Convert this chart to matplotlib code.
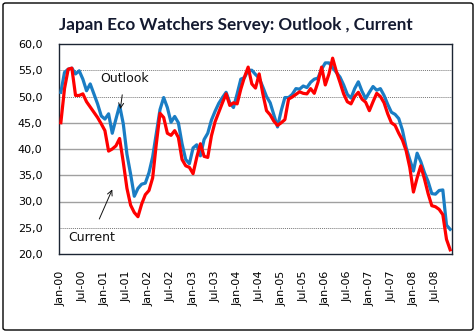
import matplotlib
matplotlib.use("Agg")
import matplotlib.pyplot as plt
from matplotlib.patches import FancyBboxPatch

# monthly survey readings, Jan-2000 .. Nov-2008
outlook = [50.8, 54.6, 55.2, 55.4, 54.3, 54.9, 53.3, 51.1, 52.4, 50.5,
           48.6, 46.3, 45.7, 46.7, 43.0, 45.7, 48.3, 44.8, 39.0, 35.2,
           31.0, 32.5, 33.3, 33.5, 35.5, 38.5, 43.0, 47.5, 49.8, 47.9,
           45.1, 46.2, 45.0, 41.0, 38.0, 37.2, 40.2, 40.8, 38.7, 41.8,
           43.0, 45.5, 47.2, 48.7, 49.8, 50.8, 48.8, 47.9, 50.5, 53.3,
           53.6, 55.0, 55.0, 54.2, 53.5, 51.8, 50.0, 48.8, 46.5, 44.2,
           47.3, 49.8, 49.8, 50.4, 51.5, 51.4, 52.0, 51.7, 52.7, 53.3,
           53.5, 55.2, 56.4, 56.4, 55.5, 54.6, 53.7, 52.2, 50.4, 49.7,
           51.5, 52.8, 51.0, 49.6, 50.8, 51.9, 51.2, 51.5, 50.2, 48.5,
           47.0, 46.6, 45.8, 43.6, 40.3, 38.0, 35.8, 39.2, 37.6, 35.5,
           33.8, 31.5, 31.4, 32.1, 32.2, 25.5, 24.7]
current = [45.0, 51.5, 55.2, 55.4, 50.2, 50.2, 50.5, 49.0, 48.0, 47.0,
           46.0, 44.8, 43.5, 39.6, 40.0, 40.6, 42.0, 37.5, 32.5, 29.3,
           27.9, 27.1, 29.5, 31.3, 32.1, 34.5, 41.0, 46.8, 46.0, 43.0,
           42.6, 43.5, 42.2, 38.0, 36.8, 36.5, 35.3, 38.4, 41.0, 38.6,
           38.4, 42.5, 45.2, 47.0, 48.8, 50.5, 48.3, 48.8, 48.6, 51.4,
           53.7, 55.6, 52.4, 51.6, 54.3, 50.5, 47.3, 46.5, 45.3, 44.5,
           45.0, 45.6, 49.5, 49.9, 50.4, 50.9, 50.6, 50.5, 51.5, 50.6,
           52.7, 55.6, 52.2, 54.3, 57.3, 54.8, 52.7, 50.5, 49.0, 48.6,
           50.0, 50.8, 49.5, 48.9, 47.3, 49.0, 50.6, 50.0, 48.8, 46.7,
           45.0, 44.5, 43.0, 41.7, 39.7, 36.5, 31.8, 34.5, 36.8, 34.3,
           31.5, 29.2, 29.0, 28.5, 27.5, 22.8, 20.8]

tick_labels = ["Jan-00", "Jul-00", "Jan-01", "Jul-01", "Jan-02", "Jul-02",
               "Jan-03", "Jul-03", "Jan-04", "Jul-04", "Jan-05", "Jul-05",
               "Jan-06", "Jul-06", "Jan-07", "Jul-07", "Jan-08", "Jul-08"]
y_ticks = [20, 25, 30, 35, 40, 45, 50, 55, 60]

fig = plt.figure(figsize=(4.74, 3.32), dpi=100)
ax = fig.add_axes([59 / 474, 1 - 254 / 332, 393 / 474, 210 / 332])

# gridlines: some dotted, some solid, as in the original
for v in y_ticks[1:-1]:
    if v in (25, 50, 55):
        ax.axhline(v, color="#777777", lw=0.7, ls=(0, (1, 1)), zorder=1)
    else:
        ax.axhline(v, color="#a0a0a0", lw=1.0, zorder=1)

x = list(range(len(outlook)))
ax.plot(x, outlook, color="#1a7dc4", lw=2.3, zorder=3)
ax.plot(x, current, color="#ff0000", lw=2.3, zorder=4)

ax.set_xlim(-0.5, len(outlook) - 0.5)
ax.set_ylim(20, 60)
ax.set_yticks(y_ticks)
ax.set_yticklabels([f"{v:.1f}".replace(".", ",") for v in y_ticks], fontsize=8)
ax.set_xticks(list(range(0, 6 * len(tick_labels), 6)))
ax.set_xticklabels(tick_labels, rotation=90, fontsize=8)
ax.tick_params(axis="both", length=0)
ax.tick_params(axis="y", pad=12)
ax.tick_params(axis="x", pad=12)
for s in ax.spines.values():
    s.set_color("#1c2533")
    s.set_linewidth(1.0)

ax.annotate("Outlook", xy=(16.2, 47.6), xytext=(17.3, 53.4),
            fontsize=9, ha="center", va="center", color="#111111",
            arrowprops=dict(arrowstyle="->", color="#111111", lw=0.7,
                            shrinkA=5, shrinkB=0))
ax.annotate("Current", xy=(14.0, 32.3), xytext=(8.3, 23.2),
            fontsize=9, ha="center", va="center", color="#111111",
            arrowprops=dict(arrowstyle="->", color="#111111", lw=0.7,
                            shrinkA=7, shrinkB=0))

fig.text(236 / 474, 1 - 25 / 332, "Japan Eco Watchers Servey: Outlook , Current",
         ha="center", va="center", fontsize=12.3, fontweight="bold",
         family="Lato", color="#141a30")

fig.patches.append(FancyBboxPatch((3 / 474, 2 / 332), 470 / 474, 327 / 332,
                                  boxstyle="round,pad=0,rounding_size=0.006",
                                  transform=fig.transFigure, fill=False,
                                  ec="black", lw=1.0))

fig.savefig("out.png", dpi=100)
